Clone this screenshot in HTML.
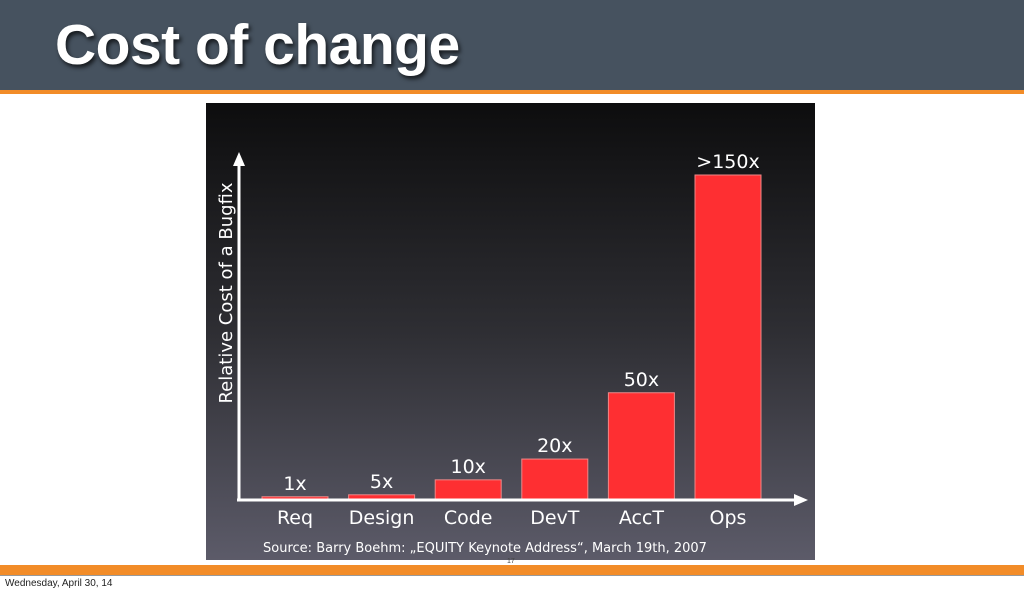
<!DOCTYPE html>
<html><head><meta charset="utf-8"><style>
body{margin:0;width:1024px;height:592px;overflow:hidden;background:#fff;font-family:"Liberation Sans",sans-serif;position:relative}
#hdr{position:absolute;left:0;top:0;width:1024px;height:90px;background:#46525f}
#stripe{position:absolute;left:0;top:90px;width:1024px;height:4px;background:#f28c28}
#title{position:absolute;left:55px;top:12px;font-size:57px;font-weight:bold;color:#fff;letter-spacing:-0.5px;text-shadow:2px 3px 4px rgba(0,0,0,.7);line-height:66px}
#foot{position:absolute;left:0;top:565px;width:1024px;height:10px;background:#f28c28;border-bottom:1px solid #999}
#date{position:absolute;left:5px;top:578px;font-size:10px;color:#222}
#pg{position:absolute;left:507px;top:558px;font-size:7px;color:#444}
</style></head><body>
<div id="hdr"></div>
<div id="stripe"></div>
<div id="title">Cost of change</div>
<svg id="chart" style="position:absolute;left:0;top:0" width="1024" height="592">
<defs><linearGradient id="bg" x1="0" y1="0" x2="0" y2="1"><stop offset="0" stop-color="#0d0d0e"/><stop offset="0.5" stop-color="#2e2e33"/><stop offset="1" stop-color="#5c5b69"/></linearGradient></defs>
<rect x="206" y="103" width="609" height="457" fill="url(#bg)"/>
<g id="marks"></g>
<line x1="239" y1="500" x2="239" y2="162" stroke="#fff" stroke-width="3"/>
<polygon points="239,152 233,166 245,166" fill="#fff"/>
<line x1="237" y1="500" x2="795" y2="500" stroke="#fff" stroke-width="3"/>
<polygon points="808,500 794,494 794,506" fill="#fff"/>
<text transform="translate(232,293) rotate(-90)" text-anchor="middle" fill="#fff" font-size="18" font-family="DejaVu Sans, sans-serif">Relative Cost of a Bugfix</text>
<text x="485" y="552" text-anchor="middle" fill="#fff" font-size="13" font-family="DejaVu Sans, sans-serif">Source: Barry Boehm: „EQUITY Keynote Address“, March 19th, 2007</text>
</svg>
<div id="foot"></div>
<div id="pg">17</div>
<div id="date">Wednesday, April 30, 14</div>
<script>
const categories=["Req","Design","Code","DevT","AccT","Ops"];
const values=[1,1.6,6.2,12.6,33,100];
const valueLabels=["1x","5x","10x","20x","50x",">150x"];
const NS="http://www.w3.org/2000/svg";
const g=document.getElementById("marks");
const base=500,maxH=325,x0=262,step=86.6,bw=66;
function y(v){return base-v/100*maxH;}
function xb(i){return x0+i*step;}
categories.forEach((c,i)=>{
 const r=document.createElementNS(NS,"rect");
 r.setAttribute("x",xb(i));r.setAttribute("y",y(values[i]));
 r.setAttribute("width",bw);r.setAttribute("height",base-y(values[i]));
 r.setAttribute("fill","#fe2f32");r.setAttribute("stroke","#e88");r.setAttribute("stroke-width","1");
 
 
 g.appendChild(r);
 const t=document.createElementNS(NS,"text");
 t.setAttribute("x",xb(i)+bw/2);t.setAttribute("y",y(values[i])-7);
 t.setAttribute("text-anchor","middle");t.setAttribute("fill","#fff");t.setAttribute("font-size","19");
 t.setAttribute("font-family","DejaVu Sans, sans-serif");t.textContent=valueLabels[i];
 
 
 g.appendChild(t);
 const l=document.createElementNS(NS,"text");
 l.setAttribute("x",xb(i)+bw/2);l.setAttribute("y",524);
 l.setAttribute("text-anchor","middle");l.setAttribute("fill","#fff");l.setAttribute("font-size","19");
 l.setAttribute("font-family","DejaVu Sans, sans-serif");l.textContent=c;
 
 
 g.appendChild(l);
});
</script>
</body></html>
